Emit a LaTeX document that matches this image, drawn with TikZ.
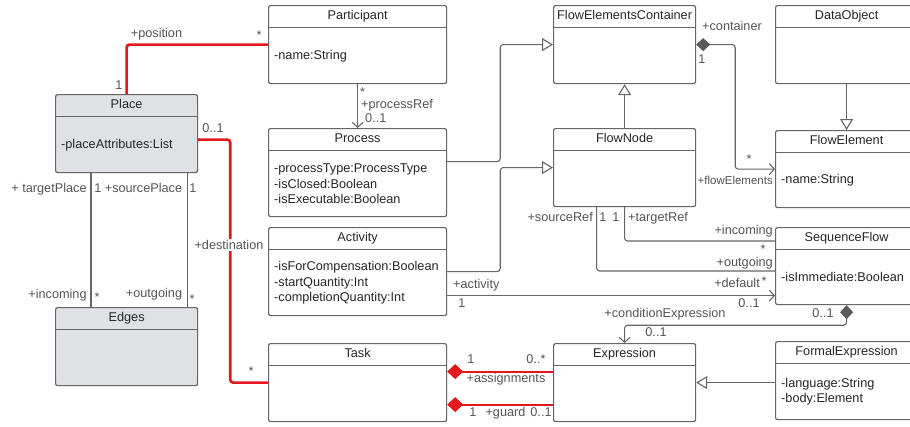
\documentclass[tikz,border=0pt]{standalone}
\usepackage{fontspec}
\setmainfont{Liberation Sans}
\usetikzlibrary{arrows.meta,calc}

\definecolor{linegray}{HTML}{666666}
\definecolor{boxgray}{HTML}{DFE1E5}
\definecolor{umlred}{HTML}{E3181C}
\definecolor{labelgray}{HTML}{555555}
\definecolor{textdark}{HTML}{262626}
\definecolor{diamondgray}{HTML}{595959}

\tikzset{
  classbox/.style={draw=linegray, line width=1.2pt, rounded corners=2pt, fill=white, inner sep=0pt},
  divider/.style={draw=linegray, line width=1.2pt},
  titletext/.style={font=\fontsize{12.7}{15.3}\selectfont, text=textdark, inner sep=0pt, anchor=base},
  attrtext/.style={font=\fontsize{12.7}{15.3}\selectfont, text=textdark, inner sep=0pt, align=left, anchor=west},
  lbl/.style={font=\fontsize{12.7}{15.3}\selectfont, text=labelgray, inner sep=0pt, anchor=base},
  conn/.style={draw=linegray, line width=1.1pt, rounded corners=3pt},
  redconn/.style={draw=umlred, line width=2.7pt, rounded corners=3pt},
  redthin/.style={draw=umlred, line width=2.2pt},
  gen/.style={-{Triangle[open,length=11pt,width=13pt,fill=white]}},
  nav/.style={-{Straight Barb[length=5pt,width=11pt]}},
  compnav/.style={{Diamond[length=14pt,width=13pt,fill=diamondgray,color=diamondgray]}-{Straight Barb[length=5pt,width=11pt]}},
  redcomp/.style={{Diamond[length=16pt,width=15pt]}-},
}

% one UML class: [extra style]{name}{x,y of top left}{width}{height}{title}{attributes}
\newcommand\umlclass[7][]{%
  \node[classbox,#1,minimum width=#4,minimum height=#5,anchor=north west] (#2) at (#3) {};
  \draw[divider] ([yshift=-22.5pt]#2.north west) -- ([yshift=-22.5pt]#2.north east);
  \node[titletext] (#2-title) at ([yshift=-14.5pt]#2.north) {#6};
  \if\relax\detokenize{#7}\relax\else
    \node[attrtext] (#2-attrs) at ($([yshift=-22.5pt]#2.north west)!0.5!(#2.south west)+(6,0)$) {#7};
  \fi
}

\begin{document}
\begin{tikzpicture}[x=1pt,y=-1pt]
\path[use as bounding box, clip] (0,0) rectangle (910,426);
\fill[white] (0,0) rectangle (910,426);

% classes
\umlclass{participant}{268,5}{178pt}{78pt}{Participant}{-name:String}
\umlclass[fill=boxgray]{place}{55,94}{142pt}{78pt}{Place}{-placeAttributes:List}
\umlclass{process}{268,128}{178pt}{88pt}{Process}{-processType:ProcessType\\-isClosed:Boolean\\-isExecutable:Boolean}
\umlclass{activity}{268,227}{178pt}{88pt}{Activity}{-isForCompensation:Boolean\\-startQuantity:Int\\-completionQuantity:Int}
\umlclass{task}{268,343}{178pt}{78pt}{Task}{}
\umlclass[fill=boxgray]{edges}{55,307}{142pt}{78pt}{Edges}{}
\umlclass{fec}{553,5}{142pt}{78pt}{FlowElementsContainer}{}
\umlclass{flownode}{553,128}{142pt}{78pt}{FlowNode}{}
\umlclass{dataobject}{775,5}{142pt}{78pt}{DataObject}{}
\umlclass{flowelement}{775,130}{142pt}{77pt}{FlowElement}{-name:String}
\umlclass{sequenceflow}{775,227}{142pt}{77pt}{SequenceFlow}{-isImmediate:Boolean}
\umlclass{expression}{553,343}{142pt}{78pt}{Expression}{}
\umlclass{formalexpr}{775,341}{142pt}{78pt}{FormalExpression}{-language:String\\-body:Element}

% helper points on the class borders
\coordinate (proc-out) at ([yshift=11pt]process.east);
\coordinate (asg-start) at ([yshift=11pt]task.east);
\coordinate (grd-start) at ([yshift=-22pt]task.east);
\coordinate (dst-start) at ([yshift=-6pt]place.east);
\coordinate (sf-in) at ([yshift=-14pt]sequenceflow.north west);
\coordinate (sf-out) at ([yshift=-44pt]sequenceflow.north west);
\coordinate (fn-src) at ([xshift=-28pt]flownode.south);
\coordinate (act-def) at ([yshift=-24pt]activity.east);
\coordinate (tp-top) at ([xshift=36pt]place.south west);
\coordinate (tp-bot) at ([xshift=36pt]edges.north west);
\coordinate (sp-top) at ([xshift=-11pt]place.south east);
\coordinate (sp-bot) at ([xshift=-11pt]edges.north east);

% red associations
\draw[redconn] (place.north) |- (participant.west);
\draw[redconn] (dst-start) -- ++(32,0) |- (task.west);
\draw[redthin, umlred, redcomp] (asg-start) -- (asg-start -| expression.west);
\draw[redthin, umlred, redcomp] (grd-start) -- (grd-start -| expression.west);

% generalizations
\draw[conn, gen] (proc-out) -- ++(53,0) |- (fec.west);
\draw[conn, gen] (activity.east) -- ++(53,0) |- (flownode.west);
\draw[conn, gen] (flownode.north) -- (fec.south);
\draw[conn, gen] (dataobject.south) -- (flowelement.north);
\draw[conn, gen] (formalexpr.west |- expression.east) -- (expression.east);

% associations and compositions
\draw[conn, nav] (participant.south) -- (process.north);
\draw[conn, compnav] (fec.east) -- ++(39,0) |- (flowelement.west);
\draw[conn] (flownode.south) |- (sf-in);
\draw[conn] (fn-src) |- (sf-out);
\draw[conn, nav] (act-def) -- (act-def -| sequenceflow.west);
\draw[conn, compnav] (sequenceflow.south) -- ++(0,20) -| (expression.north);
\draw[conn] (tp-top) -- (tp-bot);
\draw[conn] (sp-top) -- (sp-bot);

% role names and multiplicities
\node[lbl] (l-pos) at (156.5,37.5) {+position};
\node[lbl] (l-pos-m) at (259,39.5) {*};
\node[lbl] (l-pos-1) at (119,89.5) {1};
\node[lbl,anchor=base west] (l-pr-m) at (360,96) {*};
\node[lbl,anchor=base west] (l-pr) at (361,108.5) {+processRef};
\node[lbl,anchor=base west] (l-pr-01) at (365,122.5) {0..1};
\node[lbl] (l-cont) at (732,30.5) {+container};
\node[lbl] (l-cont-1) at (702,63.5) {1};
\node[lbl] (l-fe-m) at (749,163) {*};
\node[lbl,anchor=base east,font=\fontsize{11.5}{14}\selectfont] (l-fe) at (773,184.5) {+flowElements};
\node[lbl] (l-src-1) at (603,221.5) {1};
\node[lbl] (l-tgt-1) at (616,221.5) {1};
\node[lbl,anchor=base east] (l-src) at (593,221) {+sourceRef};
\node[lbl,anchor=base west] (l-tgt) at (628,221) {+targetRef};
\node[lbl,anchor=base east] (l-inc) at (773,234.5) {+incoming};
\node[lbl] (l-inc-m) at (763,253) {*};
\node[lbl,anchor=base east] (l-out) at (773,266) {+outgoing};
\node[lbl] (l-out-m) at (764,285) {*};
\node[lbl,anchor=base east] (l-def) at (760,287.5) {+default};
\node[lbl] (l-def-01) at (749,307.5) {0..1};
\node[lbl,anchor=base west] (l-act) at (453,288.5) {+activity};
\node[lbl] (l-act-1) at (462,307.5) {1};
\node[lbl] (l-cond) at (665,317.5) {+conditionExpression};
\node[lbl] (l-cond-01a) at (823,317.5) {0..1};
\node[lbl] (l-cond-01b) at (656,336.5) {0..1};
\node[lbl] (l-asg-1) at (471,363.5) {1};
\node[lbl] (l-asg-m) at (536,363.5) {0..*};
\node[lbl] (l-asg) at (506,382.5) {+assignments};
\node[lbl] (l-grd-1) at (473,416) {1};
\node[lbl] (l-grd) at (505.5,416) {+guard};
\node[lbl] (l-grd-01) at (541,416) {0..1};
\node[lbl] (l-dst-01) at (213,132.5) {0..1};
\node[lbl,fill=white,inner sep=1pt] (l-dst) at (229,249.5) {+destination};
\node[lbl] (l-dst-m) at (251,375) {*};
\node[lbl] (l-tp) at (49,192.5) {+ targetPlace};
\node[lbl] (l-tp-1) at (98,192.5) {1};
\node[lbl] (l-sp) at (143.5,192.5) {+sourcePlace};
\node[lbl] (l-sp-1) at (193,192.5) {1};
\node[lbl] (l-inc2) at (57.5,298.5) {+incoming};
\node[lbl] (l-inc2-m) at (97,301) {*};
\node[lbl] (l-out2) at (154,297.5) {+outgoing};
\node[lbl] (l-out2-m) at (192,303) {*};
\end{tikzpicture}
\end{document}
